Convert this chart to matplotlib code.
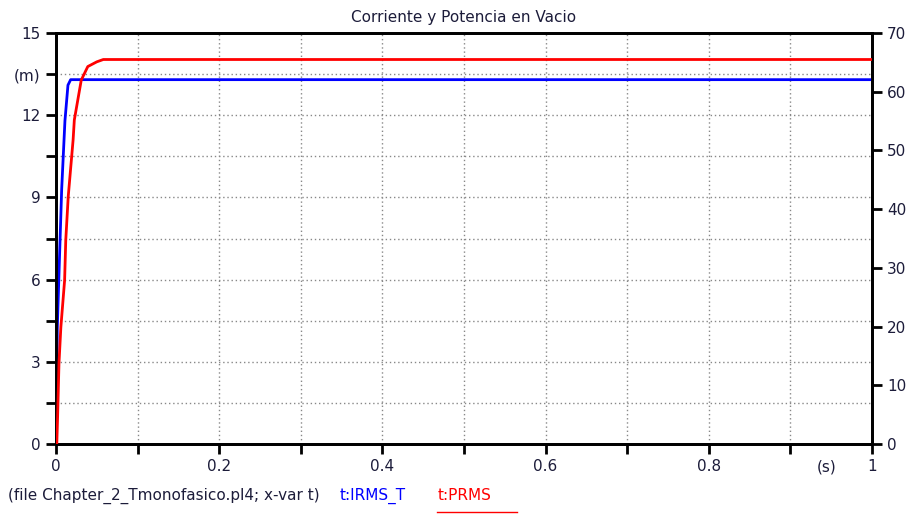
import matplotlib.pyplot as plt
import numpy as np

# IRMS_T (left axis, mA) and PRMS (right axis, W)
t_irms = [0, 0.001, 0.0016, 0.004, 0.007, 0.011, 0.0147, 0.018, 1.0]
irms = [0, 2.1, 4.2, 6.5, 9.3, 11.8, 13.1, 13.3, 13.3]

t_prms = [0, 0.001, 0.002, 0.0037, 0.006, 0.0106, 0.012, 0.015, 0.021,
          0.0225, 0.031, 0.039, 0.05, 0.058, 1.0]
prms = [0, 0, 4.6, 13.8, 19.9, 27.9, 34.7, 42.1, 51.8, 55.2, 62.0, 64.3,
        65.1, 65.5, 65.5]

left_ticks = [0, 3, 6, 9, 12, 13.5, 15]
left_labels = ["0", "3", "6", "9", "12", "(m)", "15"]
x_ticks = [0, 0.2, 0.4, 0.6, 0.8, 0.945, 1.0]
x_labels = ["0", "0.2", "0.4", "0.6", "0.8", "(s)", "1"]
right_ticks = [0, 10, 20, 30, 40, 50, 60, 70]

txt = "#1c1c3a"
plt.rcParams['font.family'] = ['DejaVu Sans']

fig = plt.figure(figsize=(9.13, 5.17), dpi=100)
ax = fig.add_axes([0.0613, 0.1412, 0.8937, 0.7948])
ax2 = ax.twinx()

# minor ticks carry the tick marks and the dotted grid
ax.xaxis.remove_overlapping_locs = False
ax.yaxis.remove_overlapping_locs = False
ax.set_xticks(np.arange(0, 1.0001, 0.1), minor=True)
ax.set_yticks(np.arange(0, 15.001, 1.5), minor=True)
ax.grid(True, which='minor', color='#888888', linestyle=(0, (1, 2)), linewidth=1)
ax.set_axisbelow(True)

ax.plot(t_irms, irms, color='blue', linewidth=2, zorder=3)
ax2.plot(t_prms, prms, color='red', linewidth=2, zorder=3)

ax.set_xlim(0, 1)
ax.set_ylim(0, 15)
ax2.set_ylim(0, 70)

ax.set_xticks(x_ticks)
ax.set_xticklabels(x_labels)
ax.set_yticks(left_ticks)
ax.set_yticklabels(left_labels)
ax2.set_yticks(right_ticks)

for a in (ax, ax2):
    for s in a.spines.values():
        s.set_linewidth(2)
    a.tick_params(which='both', direction='out', length=7, width=2,
                  labelsize=11, labelcolor=txt, pad=4)
ax.tick_params(axis='both', which='major', length=0, pad=11)

ax.set_title("Corriente y Potencia en Vacio", fontsize=11, color=txt, pad=8)

fig.text(0.009, 0.033, "(file Chapter_2_Tmonofasico.pl4; x-var t)", fontsize=11, color=txt)
fig.text(0.372, 0.033, "t:IRMS_T", fontsize=11, color='blue')
fig.text(0.479, 0.033, "t:PRMS", fontsize=11, color='red')
fig.add_artist(plt.Line2D([0.479, 0.566], [0.01, 0.01], color='red', linewidth=1))

plt.savefig("out.png", dpi=100)
